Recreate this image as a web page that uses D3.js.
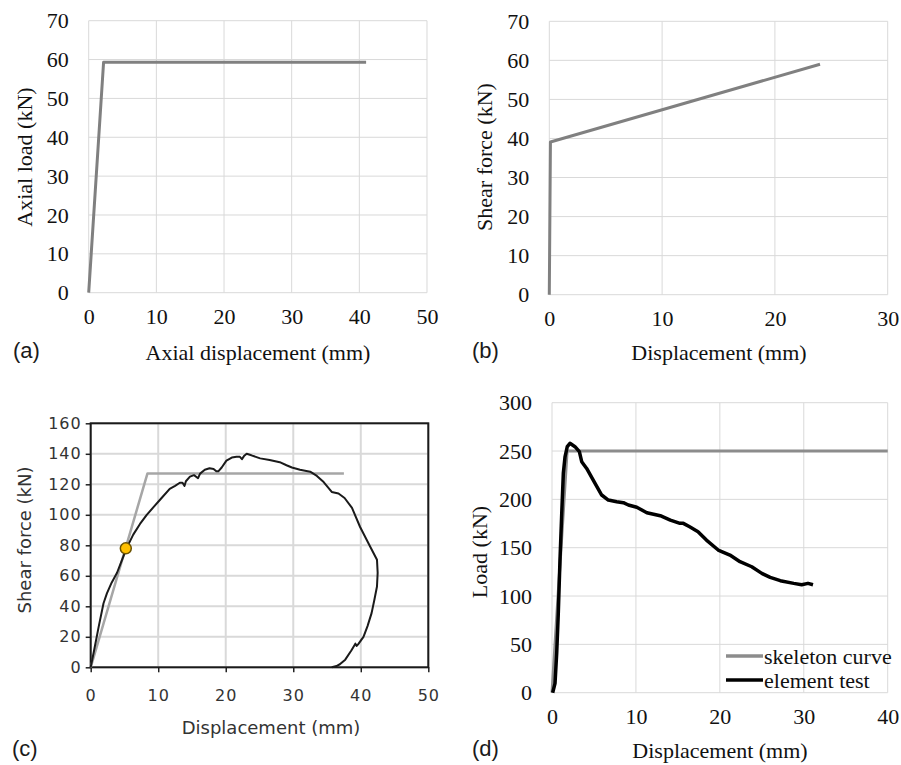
<!DOCTYPE html>
<html>
<head>
<meta charset="utf-8">
<script src="https://cdn.jsdelivr.net/npm/d3@7"></script>
<style>
  body { margin: 0; background: #fff; }
</style>
</head>
<body>
<div id="chart"></div>
<script>
// ---- data ----
// (a) axial spring
var axialDisp = [0, 2.2, 41];
var axialLoad = [0, 59.3, 59.3];

// (b) shear spring
var shearDisp = [0, 0.1, 24];
var shearForce = [0, 39.1, 59];

// (c) shear test + skeleton
var cSkelDisp = [0, 8.4, 37.5];
var cSkelForce = [0, 127, 127];
var cTestDisp = [0, 0.5, 1.2, 1.9, 2.4, 3.1, 3.9, 4.6, 5.3, 6.3, 7.3, 8.3, 9.3, 10.5, 11.7,
  12.5, 13.2, 13.6, 13.9, 14.1, 14.7, 15.3, 15.9, 16.2, 16.9, 17.6, 18.2, 18.6, 18.9, 19.4,
  20.1, 20.9, 21.6, 22.1, 22.4, 22.7, 23.1, 23.8, 25.1, 26.5, 28.0, 29.0, 29.8, 31.0, 32.5,
  33.5, 34.5, 35.7, 36.7, 37.6, 38.7, 39.9, 41.4, 42.4, 42.5, 42.4, 42.0, 41.6, 41.0, 40.4,
  39.6, 39.4, 39.2, 38.6, 37.7, 36.9, 36.4, 35.7];
var cTestForce = [0, 11, 27, 42, 48.5, 55.5, 62, 70, 78, 87, 94, 100, 105, 111, 117,
  119, 121, 121, 119, 122, 125, 126, 124, 127, 129.5, 130.5, 130, 128.5, 128.5, 131,
  135.5, 137.5, 138, 138, 136.5, 138.5, 140, 139, 137, 136, 134.5, 132.5, 131, 129.5, 128.3,
  125.5, 121.5, 115, 114, 111, 104.5, 92, 79, 70.5, 62, 53, 44, 35.5, 27, 20,
  15, 14, 15.5, 11, 5, 2, 0.8, 0];
var cPoint = [5.2, 78];

// (d) element test + skeleton
var dSkelDisp = [0, 1.8, 40];
var dSkelLoad = [0, 250, 250];
var dTestDisp = [0.08, 0.36, 0.56, 0.75, 0.95, 1.16, 1.35, 1.55, 1.82, 2.14, 2.74, 3.26, 3.54,
  4.13, 5.13, 5.92, 6.71, 7.71, 8.5, 9.1, 10.1, 11.3, 12.9, 14.1, 15.25, 15.65, 16.4, 17.4,
  18.4, 19.8, 21.2, 22.4, 23.8, 25.0, 26.0, 27.2, 28.8, 29.75, 30.5, 31.1];
var dTestLoad = [0, 9.7, 40.8, 82, 137, 185.5, 227, 244, 254.5, 258, 254.5, 249.3, 239,
  232, 216.6, 204.5, 199.3, 197.6, 196.6, 194.2, 191.8, 186.2, 183.1, 178.6, 175.2, 175.2, 171.7, 166.6,
  157.9, 147.6, 142.4, 135.5, 130.3, 123.4, 119.3, 115.9, 113.1, 111.7, 113.1, 111.7];

var legendNames = ["skeleton curve", "element test"];

// ---- setup ----
var svg = d3.select("#chart").append("svg")
  .attr("width", 901)
  .attr("height", 765);

var serif = '"Liberation Serif", "Times New Roman", serif';
var arial = '"Liberation Sans", Arial, sans-serif';
var dejavu = '"DejaVu Sans", sans-serif';

function zip(xs, ys) {
  return xs.map((d, i) => [d, ys[i]]);
}

// draws grid, tick labels and titles for one panel; returns scales + group
function panel(box, xMax, xStep, yMax, yStep, look) {
  var w = box.right - box.left;
  var h = box.bottom - box.top;
  var x = d3.scaleLinear().domain([0, xMax]).range([0, w]);
  var y = d3.scaleLinear().domain([0, yMax]).range([h, 0]);
  var xt = d3.range(0, xMax + 0.001, xStep);
  var yt = d3.range(0, yMax + 0.001, yStep);

  var g = svg.append("g").attr("transform", `translate(${box.left}, ${box.top})`);

  // grid lines
  g.append("g").selectAll("line").data(xt).enter().append("line")
    .attr("x1", (d) => x(d)).attr("x2", (d) => x(d))
    .attr("y1", 0).attr("y2", h)
    .attr("stroke", "#d9d9d9").attr("stroke-width", look.grid);
  g.append("g").selectAll("line").data(yt).enter().append("line")
    .attr("x1", 0).attr("x2", w)
    .attr("y1", (d) => y(d)).attr("y2", (d) => y(d))
    .attr("stroke", "#d9d9d9").attr("stroke-width", look.grid);

  var bottomAxis = d3.axisBottom(x).tickValues(xt).tickFormat(d3.format("d"))
    .tickSize(look.tick).tickPadding(look.xpad);
  var leftAxis = d3.axisLeft(y).tickValues(yt).tickFormat(d3.format("d"))
    .tickSize(look.tick).tickPadding(look.ypad);

  var xa = g.append("g").attr("transform", `translate(0, ${h})`).call(bottomAxis);
  var ya = g.append("g").call(leftAxis);
  [xa, ya].forEach(function (a) {
    a.attr("font-family", look.font).attr("font-size", look.size);
    a.select(".domain").remove();
    a.selectAll("text")
      .attr("font-family", look.font)
      .attr("font-size", look.size)
      .style("letter-spacing", look.spacing || "0px")
      .attr("fill", look.color);
    a.selectAll("line").attr("stroke", "#222").attr("stroke-width", 1.5);
  });

  if (look.box) {
    g.append("rect")
      .attr("width", w).attr("height", h)
      .attr("fill", "none").attr("stroke", "#1a1a1a").attr("stroke-width", 2);
  }

  // axis titles
  svg.append("text")
    .attr("x", look.xTitle[0]).attr("y", look.xTitle[1])
    .attr("text-anchor", "middle")
    .attr("font-family", look.font).attr("font-size", look.titleSize)
    .attr("fill", look.color)
    .text(look.xLabel);
  svg.append("text")
    .attr("transform", `translate(${look.yTitle[0]}, ${look.yTitle[1]}) rotate(-90)`)
    .attr("text-anchor", "middle")
    .attr("dominant-baseline", "central")
    .attr("font-family", look.font).attr("font-size", look.titleSize)
    .attr("fill", look.color)
    .text(look.yLabel);

  // panel letter
  svg.append("text")
    .attr("x", look.tag[0]).attr("y", look.tag[1])
    .attr("font-family", arial).attr("font-size", 22)
    .attr("fill", "#1a1a1a")
    .text(look.tagText);

  return { x: x, y: y, g: g };
}

function drawLine(p, pts, color, width) {
  var line = d3.line().x((d) => p.x(d[0])).y((d) => p.y(d[1]));
  p.g.append("path")
    .datum(pts)
    .attr("d", line)
    .attr("fill", "none")
    .attr("stroke", color)
    .attr("stroke-width", width)
    .attr("stroke-linejoin", "round");
}

var serifLook = { grid: 1, tick: 0, xpad: 16, ypad: 20, font: serif, size: 22, titleSize: 22, color: "#111" };

// (a)
var pa = panel({ left: 88.7, right: 427, top: 20.7, bottom: 292.7 }, 50, 10, 70, 10,
  Object.assign({}, serifLook, {
    xLabel: "Axial displacement (mm)", xTitle: [258, 360],
    yLabel: "Axial load (kN)", yTitle: [24, 157],
    tag: [13, 358], tagText: "(a)"
  }));
drawLine(pa, zip(axialDisp, axialLoad), "#808080", 3);

// (b)
var pb = panel({ left: 549.3, right: 887.7, top: 21.3, bottom: 294.7 }, 30, 10, 70, 10,
  Object.assign({}, serifLook, {
    xLabel: "Displacement (mm)", xTitle: [719, 360],
    yLabel: "Shear force (kN)", yTitle: [484, 157],
    tag: [472, 358], tagText: "(b)"
  }));
drawLine(pb, zip(shearDisp, shearForce), "#808080", 3);

// (c)
var pc = panel({ left: 90.7, right: 428.3, top: 423.3, bottom: 667.3 }, 50, 10, 160, 20, {
  grid: 2, tick: 5, xpad: 17, ypad: 4, font: dejavu, size: 16, spacing: "1px",
  titleSize: 18, color: "#333",
  box: true,
  xLabel: "Displacement (mm)", xTitle: [271, 734],
  yLabel: "Shear force (kN)", yTitle: [24, 540],
  tag: [12, 756], tagText: "(c)"
});
drawLine(pc, zip(cSkelDisp, cSkelForce), "#a6a6a6", 2.5);
drawLine(pc, zip(cTestDisp, cTestForce), "#1a1a1a", 2);
pc.g.append("circle")
  .attr("cx", pc.x(cPoint[0])).attr("cy", pc.y(cPoint[1]))
  .attr("r", 5.5)
  .attr("fill", "#ffc000").attr("stroke", "#6b5200").attr("stroke-width", 1.5);

// (d)
var pd = panel({ left: 552, right: 887.7, top: 402.7, bottom: 692.7 }, 40, 10, 300, 50,
  Object.assign({}, serifLook, {
    xLabel: "Displacement (mm)", xTitle: [720, 758],
    yLabel: "Load (kN)", yTitle: [479, 552],
    tag: [472, 756], tagText: "(d)"
  }));
drawLine(pd, zip(dSkelDisp, dSkelLoad), "#8c8c8c", 3);
drawLine(pd, zip(dTestDisp, dTestLoad), "#000", 3.5);

// legend for (d)
var legendColors = ["#8c8c8c", "#000"];
var legend = svg.append("g").attr("transform", "translate(726, 656)");
legendNames.forEach(function (name, i) {
  legend.append("line")
    .attr("x1", 0).attr("x2", 37)
    .attr("y1", i * 24).attr("y2", i * 24)
    .attr("stroke", legendColors[i]).attr("stroke-width", 3.5);
  legend.append("text")
    .attr("x", 38).attr("y", i * 24)
    .attr("dominant-baseline", "central")
    .attr("font-family", serif).attr("font-size", 22)
    .attr("fill", "#111")
    .text(name);
});
</script>
</body>
</html>
